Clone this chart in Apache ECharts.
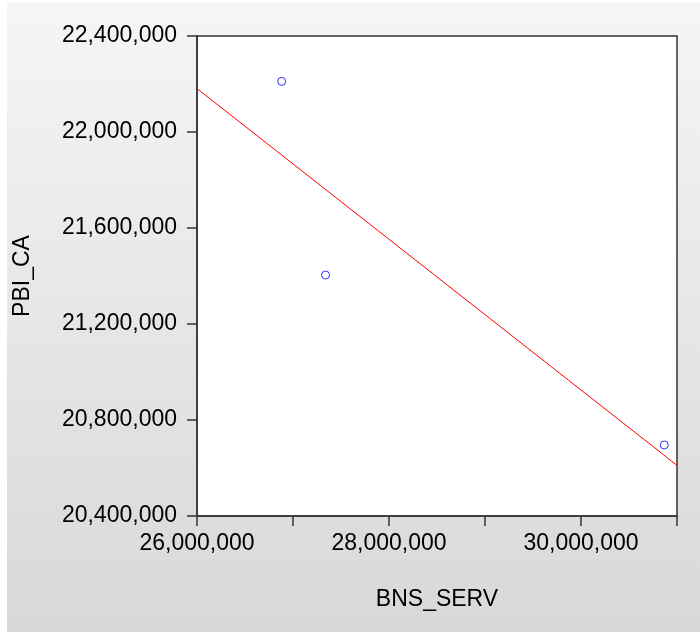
<!DOCTYPE html>
<html>
<head>
<meta charset="utf-8">
<script src="https://cdn.jsdelivr.net/npm/echarts@6/dist/echarts.min.js"></script>
<style>
html,body{margin:0;padding:0;background:#fff;}
#chart{width:700px;height:634px;}
</style>
</head>
<body>
<div id="chart"></div>
<script>
// Data
const bnsServ = [26882000, 27339000, 30867000];
const pbiCa = [22211000, 21404000, 20696000];
// fitted line endpoints as seen in the picture
const fitX = [26000000, 31000000];
const fitY = [22181000, 20611000];
const xLabelValues = [26000000, 28000000, 30000000];

const fmt = v => v.toLocaleString('en-US');

const chart = echarts.init(document.getElementById('chart'), null, {renderer: 'canvas'});
chart.setOption({
  animation: false,
  backgroundColor: '#ffffff',
  graphic: [{
    type: 'rect', z: -10, silent: true,
    shape: {x: 7, y: 3, width: 693, height: 629},
    style: {fill: new echarts.graphic.LinearGradient(0, 0, 0, 1, [
      {offset: 0, color: '#f5f5f5'}, {offset: 1, color: '#d8d8d8'}
    ])}
  }],
  grid: {
    left: 197, top: 36, right: 23, bottom: 118,
    show: true, backgroundColor: '#ffffff', borderColor: '#333333', borderWidth: 1.5
  },
  xAxis: {
    type: 'value', min: 26000000, max: 31000000, interval: 1000000,
    name: 'BNS_SERV', nameLocation: 'middle', nameGap: 72,
    nameTextStyle: {fontFamily: 'Liberation Sans', fontSize: 23, color: '#000'},
    axisLine: {show: true, lineStyle: {color: '#333', width: 1.5}},
    axisTick: {show: true, inside: false, length: 10, lineStyle: {color: '#333', width: 1.5}},
    axisLabel: {
      margin: 16, fontFamily: 'Liberation Sans', fontSize: 23, color: '#000',
      formatter: v => xLabelValues.includes(v) ? fmt(v) : ''
    },
    splitLine: {show: false}
  },
  yAxis: {
    type: 'value', min: 20400000, max: 22400000, interval: 400000,
    name: 'PBI_CA', nameLocation: 'middle', nameGap: 163,
    nameTextStyle: {fontFamily: 'Liberation Sans', fontSize: 23, color: '#000'},
    axisLine: {show: true, lineStyle: {color: '#333', width: 1.5}},
    axisTick: {show: true, inside: false, length: 10, lineStyle: {color: '#333', width: 1.5}},
    axisLabel: {margin: 20, fontFamily: 'Liberation Sans', fontSize: 23, color: '#000', formatter: fmt},
    splitLine: {show: false}
  },
  series: [
    {
      type: 'line',
      data: fitX.map((x, i) => [x, fitY[i]]),
      showSymbol: false, symbol: 'none',
      lineStyle: {color: '#ff0000', width: 1},
      z: 2
    },
    {
      type: 'scatter',
      data: bnsServ.map((x, i) => [x, pbiCa[i]]),
      symbol: 'circle', symbolSize: 8,
      itemStyle: {color: '#ffffff', borderColor: '#0000ff', borderWidth: 1},
      z: 3
    }
  ]
});
</script>
</body>
</html>
